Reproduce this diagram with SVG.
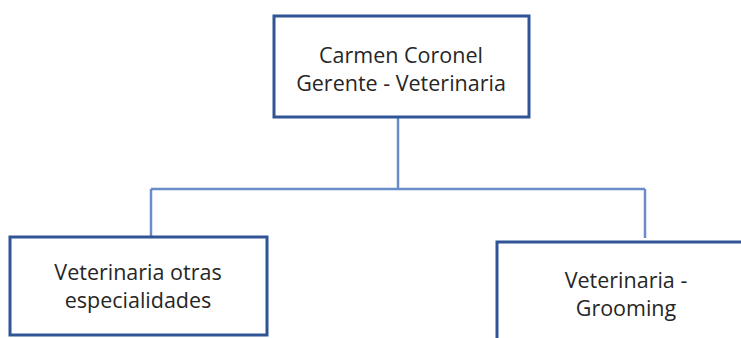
<svg xmlns="http://www.w3.org/2000/svg" width="741" height="338" viewBox="0 0 741 338">
  <style>
    .box { fill: #ffffff; stroke: #2f5597; stroke-width: 3; }
    .label { font-family: "Open Sans", "Liberation Sans", sans-serif; font-size: 21.5px; fill: #262626; text-anchor: middle; }
    .link { fill: none; stroke: #6a8cc7; stroke-width: 2.5; }
  </style>
  <rect width="741" height="338" fill="#ffffff"/>
  <g id="connectors">
    <path class="link" d="M398 117 V189"/>
    <path class="link" d="M151 189 H645"/>
    <path class="link" d="M151 189 V236"/>
    <path class="link" d="M645 189 V238"/>
  </g>
  <g id="node-gerente">
    <rect class="box" x="274" y="16" width="255" height="101"/>
    <text class="label" x="401" y="63">Carmen Coronel</text>
    <text class="label" x="401" y="91">Gerente - Veterinaria</text>
  </g>
  <g id="node-especialidades">
    <rect class="box" x="10" y="237" width="257" height="98"/>
    <text class="label" x="138" y="280">Veterinaria otras</text>
    <text class="label" x="138" y="308">especialidades</text>
  </g>
  <g id="node-grooming">
    <rect class="box" x="497" y="242" width="260" height="110"/>
    <text class="label" x="626" y="288">Veterinaria -</text>
    <text class="label" x="626" y="316">Grooming</text>
  </g>
</svg>
